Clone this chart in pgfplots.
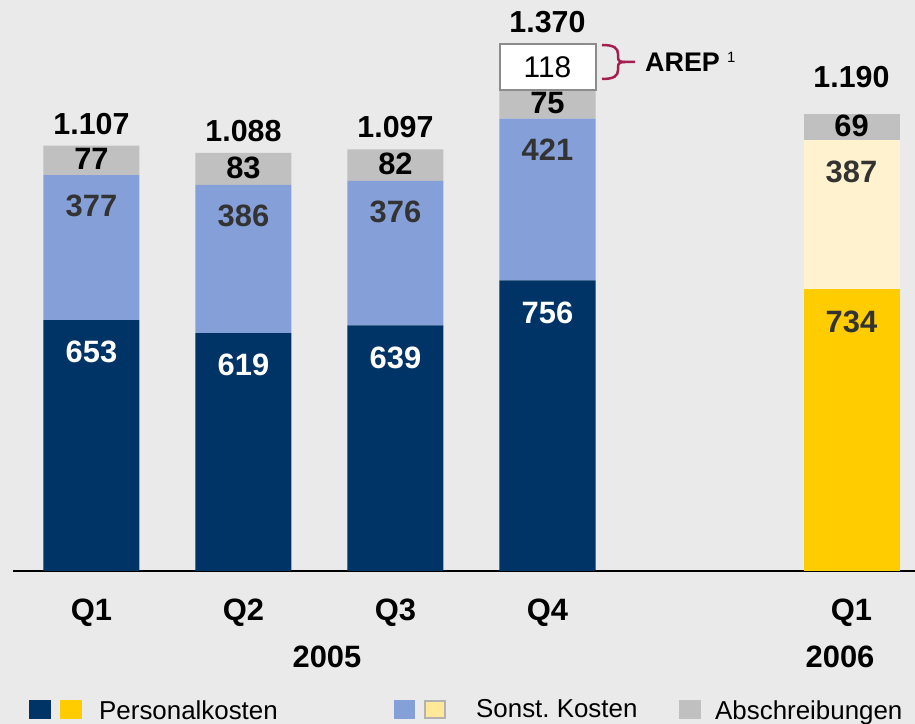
\documentclass[border=0pt]{standalone}
\usepackage{pgfplots}
\pgfplotsset{compat=1.18}
\usepackage{fontspec}
\setmainfont{Liberation Sans}
\definecolor{bg}{RGB}{234,234,234}
\definecolor{navy}{RGB}{0,51,102}
\definecolor{lblue}{RGB}{133,160,216}
\definecolor{sgray}{RGB}{192,192,192}
\definecolor{gold}{RGB}{255,204,0}
\definecolor{lyellow}{RGB}{255,242,206}
\definecolor{lgyellow}{RGB}{255,233,153}
\definecolor{dtext}{RGB}{51,51,51}
\definecolor{crimson}{RGB}{165,30,80}
\definecolor{boxgray}{RGB}{140,140,140}
\pgfplotsset{
 base0/.style={at={(13bp,153bp)}, anchor=south west, scale only axis,
   width=902bp, height=571bp, xmin=-0.5164, xmax=5.4178, ymin=0, ymax=1485.8,
   enlargelimits=false, clip=false},
 base/.style={base0, ybar stacked, bar width=0.6316},
 % label placed #1 bp below the top of its segment (nodes sit at segment centre)
 lab/.style={nodes near coords, point meta=explicit symbolic,
   visualization depends on={rawy \as \rawy},
   every node near coord/.append style={anchor=center, yshift={(0.19215*\rawy-#1)*1.00375},
   font=\bfseries\fontsize{31}{37}\selectfont, inner sep=0pt}},
 % label centred in its segment
 clab/.style={nodes near coords, point meta=explicit symbolic,
   every node near coord/.append style={anchor=center, yshift=#1,
   font=\bfseries\fontsize{31}{37}\selectfont, inner sep=0pt}},
}
\begin{document}
\begin{tikzpicture}
\fill[bg] (0,0) rectangle (915bp,724bp);
% 2005
\begin{axis}[base, axis x line*=bottom, axis y line=none,
  x axis line style={black, line width=2.2bp, -},
  xtick={0,1,2,3,5}, xticklabels={Q1,Q2,Q3,Q4,Q1}, major tick length=0pt,
  xticklabel style={font=\bfseries\fontsize{31}{37}\selectfont, anchor=center, yshift=-42bp, inner sep=0pt},
  ytick=\empty]
\addplot[fill=navy, draw=none, lab=32, every node near coord/.append style={text=white}]
  coordinates {(0,653) [653] (1,619) [619] (2,639) [639] (3,756) [756]};
\addplot[fill=lblue, draw=none, lab=31, every node near coord/.append style={text=dtext}]
  coordinates {(0,377) [377] (1,386) [386] (2,376) [376] (3,421) [421]};
\addplot[fill=sgray, draw=none, clab=1bp, every node near coord/.append style={text=black}]
  coordinates {(0,77) [77] (1,83) [83] (2,82) [82] (3,75) [75]};
\end{axis}
% 2006
\begin{axis}[base, hide axis]
\addplot[fill=gold, draw=none, lab=33, every node near coord/.append style={text=dtext}]
  coordinates {(5,734) [734]};
\addplot[fill=lyellow, draw=none, lab=32, every node near coord/.append style={text=dtext}]
  coordinates {(5,387) [387]};
\addplot[fill=sgray, draw=none, clab=1bp, every node near coord/.append style={text=black}]
  coordinates {(5,69) [69]};
\end{axis}
% AREP
\begin{axis}[base, hide axis]
\addplot[fill=none, draw=none] coordinates {(3,1252)};
\addplot[fill=white, draw=boxgray, line width=2bp, clab=0bp,
  every node near coord/.append style={text=black, font=\fontsize{30}{36}\selectfont}]
  coordinates {(3,118) [118]};
\end{axis}
% totals
\begin{axis}[base0, hide axis]
\addplot[draw=none, mark=none, nodes near coords, point meta=explicit symbolic,
  every node near coord/.append style={anchor=center, yshift=22bp, text=black,
  font=\bfseries\fontsize{30.5}{37}\selectfont, inner sep=0pt}]
  coordinates {(0,1107) [1.107] (1,1088) [1.088] (2,1097) [1.097] (3,1370) [1.370]};
\addplot[draw=none, mark=none, nodes near coords, point meta=explicit symbolic,
  every node near coord/.append style={anchor=center, yshift=37bp, text=black,
  font=\bfseries\fontsize{30.5}{37}\selectfont, inner sep=0pt}]
  coordinates {(5,1190) [1.190]};
\end{axis}
% brace + AREP label
\draw[crimson, line width=2.5bp]
  (602bp,679bp) .. controls (614bp,679bp) and (618bp,676bp) .. (618bp,670bp) -- (618bp,667bp)
  .. controls (618bp,663bp) and (620bp,662bp) .. (625bp,662bp) -- (635bp,662bp);
\draw[crimson, line width=2.5bp]
  (602bp,645bp) .. controls (614bp,645bp) and (618bp,648bp) .. (618bp,654bp) -- (618bp,657bp)
  .. controls (618bp,661bp) and (620bp,662bp) .. (625bp,662bp);
\node[anchor=base west, inner sep=0pt, font=\bfseries\fontsize{27}{32}\selectfont] at (645bp,652bp) {AREP};
\node[anchor=base west, inner sep=0pt, font=\fontsize{15}{18}\selectfont] at (727bp,661bp) {1};
% years
\node[font=\bfseries\fontsize{31}{37}\selectfont, inner sep=0pt] at (327bp,67bp) {2005};
\node[font=\bfseries\fontsize{31}{37}\selectfont, inner sep=0pt] at (840bp,67bp) {2006};
% legend
\fill[navy] (29bp,5bp) rectangle (51bp,24bp);
\fill[gold] (60bp,5bp) rectangle (82bp,24bp);
\node[anchor=base west, inner sep=0pt, font=\fontsize{26}{31}\selectfont] at (99bp,5bp) {Personalkosten};
\fill[lblue] (394bp,5bp) rectangle (415bp,24bp);
\filldraw[fill=lgyellow, draw=gray!60, line width=1.2bp] (425bp,6bp) rectangle (445bp,23bp);
\node[anchor=base west, inner sep=0pt, font=\fontsize{26}{31}\selectfont] at (476bp,7bp) {Sonst.\ Kosten};
\fill[sgray] (679bp,5bp) rectangle (701bp,24bp);
\node[anchor=base west, inner sep=0pt, font=\fontsize{26}{31}\selectfont] at (715bp,5bp) {Abschreibungen};
\pgfresetboundingbox
\path[use as bounding box] (0,0) rectangle (915bp,724bp);
\end{tikzpicture}
\end{document}
